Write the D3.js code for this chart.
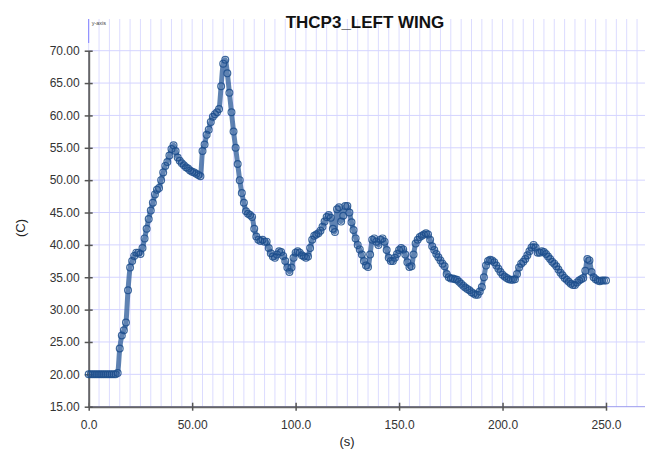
<!DOCTYPE html>
<html><head><meta charset="utf-8">
<script src="https://cdn.jsdelivr.net/npm/d3@7"></script>
<style>body{margin:0;background:#fff}svg{display:block}</style>
</head><body>
<svg id="c" width="647" height="452"></svg>
<script>
const title = "THCP3_LEFT WING";
const xLabel = "(s)";
const yLabel = "(C)";
const xTicks = [0, 50, 100, 150, 200, 250];
const xTickLabels = ["0.0", "50.00", "100.0", "150.0", "200.0", "250.0"];
const yTicks = [15, 20, 25, 30, 35, 40, 45, 50, 55, 60, 65, 70];
const yTickLabels = ["15.00","20.00","25.00","30.00","35.00","40.00","45.00","50.00","55.00","60.00","65.00","70.00"];
// time (s), one sample per second, 0..250
const temps = [
20.0,20.0,20.0,20.0,20.0,20.0,20.0,20.0,20.0,20.0,
20.0,20.0,20.0,20.0,20.2,24.0,26.0,26.8,28.0,33.0,
36.5,37.5,38.3,38.8,38.8,38.6,39.5,41.0,42.5,44.0,
45.3,46.5,47.8,48.5,48.8,50.0,51.2,52.2,52.8,53.8,
54.8,55.4,54.5,53.5,53.0,52.6,52.3,52.0,51.8,51.5,
51.3,51.2,51.0,50.8,50.6,54.5,55.5,57.0,57.8,59.0,
59.8,60.2,60.5,61.0,64.5,68.0,68.6,66.5,63.5,60.5,
57.5,55.0,52.5,50.0,48.0,46.5,45.2,44.8,44.6,44.3,
42.5,41.3,40.8,40.6,40.8,40.5,40.5,39.5,38.7,38.2,
38.0,38.5,39.0,38.9,38.3,37.5,36.5,35.8,36.5,38.0,
38.8,39.0,38.8,38.4,38.2,38.0,38.2,39.5,40.8,41.4,
41.6,41.8,42.2,42.8,43.6,44.3,44.6,44.2,42.5,42.0,
45.5,45.8,43.6,44.5,46.0,46.0,45.0,43.5,42.3,41.0,
40.0,39.3,38.5,37.5,36.8,36.6,38.5,40.8,41.0,40.5,
40.0,40.8,41.0,40.5,39.2,38.0,37.5,37.5,38.0,38.6,
39.2,39.5,39.3,38.5,37.3,36.6,36.7,38.5,40.2,40.8,
41.2,41.4,41.6,41.8,41.6,40.8,39.8,39.2,38.6,38.1,
37.6,37.1,36.7,35.5,35.0,34.8,34.8,34.7,34.6,34.3,
34.0,33.7,33.4,33.2,33.0,32.7,32.5,32.3,32.3,32.8,
33.5,35.0,36.8,37.5,37.7,37.6,37.3,36.8,36.3,35.8,
35.4,35.1,34.9,34.7,34.6,34.6,34.7,35.5,36.5,37.1,
37.4,37.8,38.4,39.0,39.6,40.0,39.6,38.8,38.8,39.0,
38.9,38.6,38.2,37.8,37.4,37.1,36.7,36.2,35.7,35.3,
34.9,34.6,34.3,34.0,33.8,33.8,34.2,34.5,34.7,34.9,
36.0,37.8,37.6,35.8,35.0,34.7,34.5,34.4,34.5,34.5,
34.5];
const times = temps.map((_, i) => i);

const svg = d3.select("#c");
const x = d3.scaleLinear().domain([0, 250]).range([88.7, 606]);
const y = d3.scaleLinear().domain([15, 70]).range([406.7, 50.7]);

// grid (extends beyond plot to the right and above)
const gridTop = 19, gridRight = 645;
const gridX = d3.range(0, 271, 5).filter(v => x(v) <= gridRight);
svg.append("g").selectAll("line").data(gridX).join("line")
  .attr("x1", d => x(d)).attr("x2", d => x(d))
  .attr("y1", gridTop).attr("y2", y(15))
  .attr("stroke", "#dcdcff").attr("stroke-width", 1);
svg.append("g").selectAll("line").data(yTicks).join("line")
  .attr("x1", x(0)).attr("x2", gridRight)
  .attr("y1", d => y(d)).attr("y2", d => y(d))
  .attr("stroke", d => d === 15 ? "#9a9aee" : "#d4d4ff").attr("stroke-width", 1);

// small y-axis marker
svg.append("line").attr("x1", x(0)).attr("x2", x(0)).attr("y1", gridTop).attr("y2", 43)
  .attr("stroke", "#8080ff").attr("stroke-width", 1);
svg.append("text").attr("x", x(0) + 3).attr("y", 25).text("y-axis")
  .attr("font-family", "Liberation Sans, Arial, sans-serif").attr("font-size", 5.5).attr("fill", "#444");

// axes
const xAxis = d3.axisBottom(x).tickValues(xTicks).tickFormat((d, i) => xTickLabels[i]).tickSizeInner(4).tickSizeOuter(0).tickPadding(8);
const gx = svg.append("g").attr("transform", `translate(0,${y(15)})`).call(xAxis);
const yAxis = d3.axisLeft(y).tickValues(yTicks).tickFormat((d, i) => yTickLabels[i]).tickSizeInner(4).tickSizeOuter(0).tickPadding(5);
const gy = svg.append("g").attr("transform", `translate(${x(0)},0)`).call(yAxis);
[gx, gy].forEach(g => {
  g.select(".domain").attr("stroke", "#666").attr("stroke-width", 2);
  g.selectAll(".tick line").attr("stroke", "#555").attr("stroke-width", 1.5);
  g.selectAll("text").attr("font-family", "Liberation Sans, Arial, sans-serif").attr("font-size", 12).attr("fill", "#333");
});
gx.selectAll(".tick line").attr("y1", -4);
gy.selectAll(".tick line").attr("x2", -4).attr("x1", 4);
gx.selectAll("text").attr("dy", "0.9em");

// series
const pts = times.map((t, i) => [t, temps[i]]);
svg.append("path").datum(pts)
  .attr("d", d3.line().x(d => x(d[0])).y(d => y(d[1])).curve(d3.curveMonotoneX))
  .attr("fill", "none").attr("stroke", "#2a5a98").attr("stroke-width", 5).attr("stroke-opacity", 0.75)
  .attr("stroke-linejoin", "round");
svg.append("g").selectAll("circle").data(pts).join("circle")
  .attr("cx", d => x(d[0])).attr("cy", d => y(d[1])).attr("r", 3.4)
  .attr("fill", "none").attr("stroke", "#1c4d8c").attr("stroke-width", 1.2).attr("stroke-opacity", 0.85);

// titles
svg.append("text").attr("x", 365).attr("y", 28).attr("text-anchor", "middle")
  .attr("font-family", "Liberation Sans, Arial, sans-serif").attr("font-weight", "bold").attr("font-size", 17)
  .attr("fill", "#111").text(title);
svg.append("text").attr("x", 347).attr("y", 446).attr("text-anchor", "middle")
  .attr("font-family", "Liberation Sans, Arial, sans-serif").attr("font-size", 13).attr("fill", "#222").text(xLabel);
svg.append("text").attr("transform", "translate(25,228) rotate(-90)").attr("text-anchor", "middle")
  .attr("font-family", "Liberation Sans, Arial, sans-serif").attr("font-size", 13).attr("fill", "#222").text(yLabel);
</script>
</body></html>
